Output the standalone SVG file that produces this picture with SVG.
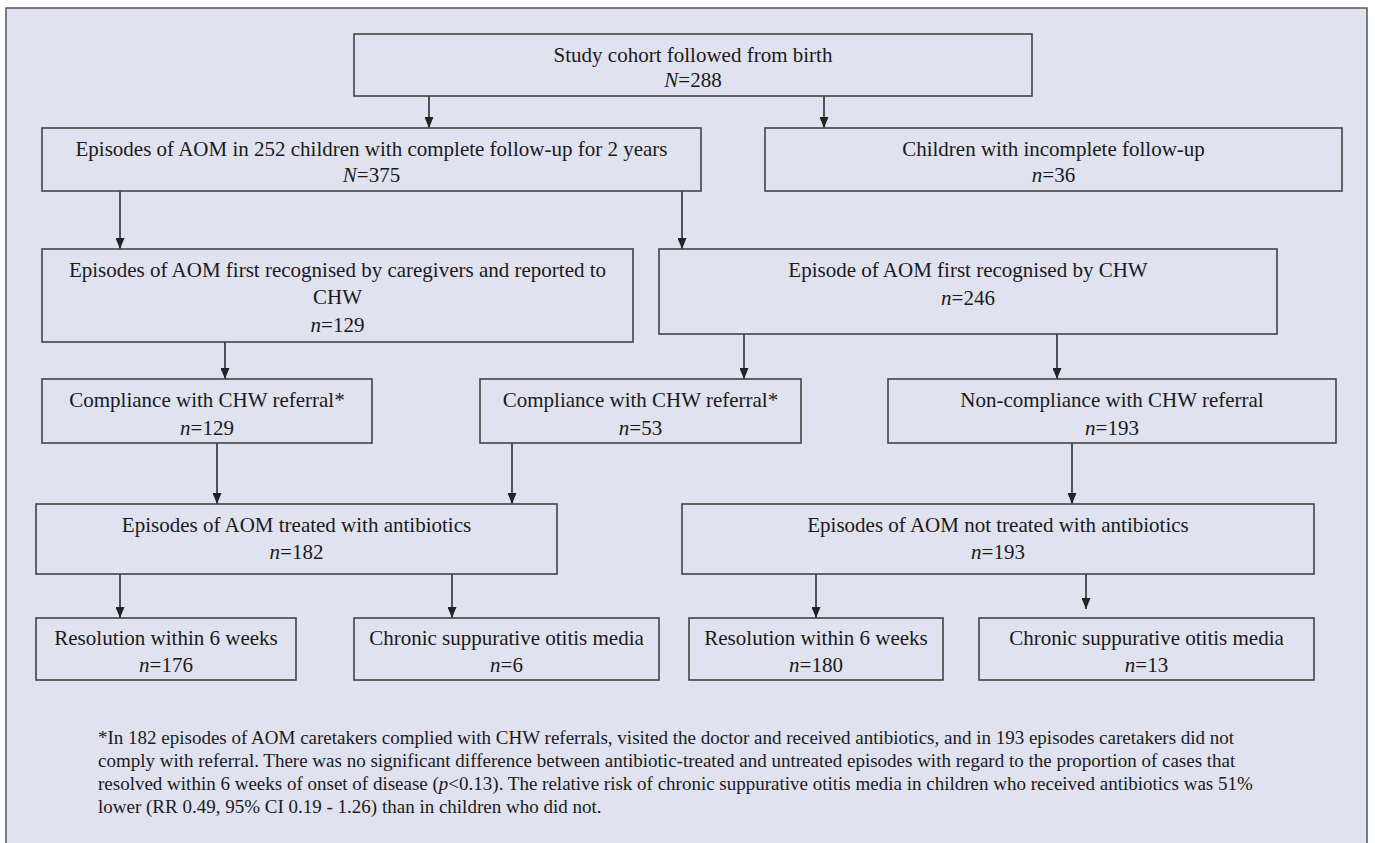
<svg xmlns="http://www.w3.org/2000/svg" width="1375" height="843" viewBox="0 0 1375 843">
<defs>
<style>
.box{fill:none;stroke:#444;stroke-width:1.6}
.t{font-family:"Liberation Serif","Times New Roman",serif;font-size:21px;fill:#1a1a1a;text-anchor:middle}
.fn{font-family:"Liberation Serif","Times New Roman",serif;font-size:19px;fill:#1a1a1a}
.i{font-style:italic}
.c{stroke:#222;stroke-width:1.5;fill:none;marker-end:url(#ah)}
</style>
<marker id="ah" viewBox="0 0 11 9" refX="11" refY="4.5" markerWidth="11" markerHeight="9" markerUnits="userSpaceOnUse" orient="auto">
<path d="M0,0 L11,4.5 L0,9 z" fill="#222"/>
</marker>
</defs>
<rect x="0" y="0" width="1375" height="843" fill="#ffffff"/>
<rect id="frame" x="6" y="8" width="1361" height="845" fill="#e0e2f0" stroke="#555" stroke-width="1.5"/>

<g id="connectors">
<line class="c" x1="429" y1="96" x2="429" y2="128"/>
<line class="c" x1="824" y1="96" x2="824" y2="128"/>
<line class="c" x1="120" y1="191" x2="120" y2="249"/>
<line class="c" x1="682" y1="191" x2="682" y2="249"/>
<line class="c" x1="225" y1="342" x2="225" y2="379"/>
<line class="c" x1="744" y1="334" x2="744" y2="379"/>
<line class="c" x1="1057" y1="334" x2="1057" y2="379"/>
<line class="c" x1="217" y1="443" x2="217" y2="504"/>
<line class="c" x1="512" y1="443" x2="512" y2="504"/>
<line class="c" x1="1072" y1="443" x2="1072" y2="504"/>
<line class="c" x1="120" y1="574" x2="120" y2="618"/>
<line class="c" x1="452" y1="574" x2="452" y2="618"/>
<line class="c" x1="816" y1="574" x2="816" y2="618"/>
<line class="c" x1="1086" y1="574" x2="1086" y2="609"/>
</g>

<g id="n-study">
<rect class="box" x="354" y="34" width="678" height="62"/>
<text class="t" x="693" y="62">Study cohort followed from birth</text>
<text class="t" x="693" y="87"><tspan class="i">N</tspan>=288</text>
</g>
<g id="n-complete">
<rect class="box" x="42" y="128" width="659" height="63"/>
<text class="t" x="371.5" y="156">Episodes of AOM in 252 children with complete follow-up for 2 years</text>
<text class="t" x="371.5" y="182"><tspan class="i">N</tspan>=375</text>
</g>
<g id="n-incomplete">
<rect class="box" x="765" y="128" width="577" height="63"/>
<text class="t" x="1053.5" y="156">Children with incomplete follow-up</text>
<text class="t" x="1053.5" y="182"><tspan class="i">n</tspan>=36</text>
</g>
<g id="n-caregivers">
<rect class="box" x="42" y="249" width="591" height="93"/>
<text class="t" x="337.5" y="277">Episodes of AOM first recognised by caregivers and reported to</text>
<text class="t" x="337.5" y="304">CHW</text>
<text class="t" x="337.5" y="332"><tspan class="i">n</tspan>=129</text>
</g>
<g id="n-chw">
<rect class="box" x="659" y="249" width="618" height="85"/>
<text class="t" x="968" y="277">Episode of AOM first recognised by CHW</text>
<text class="t" x="968" y="305"><tspan class="i">n</tspan>=246</text>
</g>
<g id="n-comp1">
<rect class="box" x="42" y="379" width="330" height="64"/>
<text class="t" x="207" y="407">Compliance with CHW referral*</text>
<text class="t" x="207" y="435"><tspan class="i">n</tspan>=129</text>
</g>
<g id="n-comp2">
<rect class="box" x="480" y="379" width="321" height="64"/>
<text class="t" x="640.5" y="407">Compliance with CHW referral*</text>
<text class="t" x="640.5" y="435"><tspan class="i">n</tspan>=53</text>
</g>
<g id="n-noncomp">
<rect class="box" x="888" y="379" width="448" height="64"/>
<text class="t" x="1112" y="407">Non-compliance with CHW referral</text>
<text class="t" x="1112" y="435"><tspan class="i">n</tspan>=193</text>
</g>
<g id="n-treated">
<rect class="box" x="36" y="504" width="521" height="70"/>
<text class="t" x="296.5" y="532">Episodes of AOM treated with antibiotics</text>
<text class="t" x="296.5" y="559"><tspan class="i">n</tspan>=182</text>
</g>
<g id="n-untreated">
<rect class="box" x="682" y="504" width="632" height="70"/>
<text class="t" x="998" y="532">Episodes of AOM not treated with antibiotics</text>
<text class="t" x="998" y="559"><tspan class="i">n</tspan>=193</text>
</g>
<g id="n-res1">
<rect class="box" x="36" y="618" width="260" height="62"/>
<text class="t" x="166" y="645">Resolution within 6 weeks</text>
<text class="t" x="166" y="672"><tspan class="i">n</tspan>=176</text>
</g>
<g id="n-csom1">
<rect class="box" x="354" y="618" width="305" height="62"/>
<text class="t" x="506.5" y="645">Chronic suppurative otitis media</text>
<text class="t" x="506.5" y="672"><tspan class="i">n</tspan>=6</text>
</g>
<g id="n-res2">
<rect class="box" x="689" y="618" width="254" height="62"/>
<text class="t" x="816" y="645">Resolution within 6 weeks</text>
<text class="t" x="816" y="672"><tspan class="i">n</tspan>=180</text>
</g>
<g id="n-csom2">
<rect class="box" x="979" y="618" width="335" height="62"/>
<text class="t" x="1146.5" y="645">Chronic suppurative otitis media</text>
<text class="t" x="1146.5" y="672"><tspan class="i">n</tspan>=13</text>
</g>

<g id="footnote">
<text class="fn" x="98" y="744">*In 182 episodes of AOM caretakers complied with CHW referrals, visited the doctor and received antibiotics, and in 193 episodes caretakers did not</text>
<text class="fn" x="98" y="767">comply with referral. There was no significant difference between antibiotic-treated and untreated episodes with regard to the proportion of cases that</text>
<text class="fn" x="98" y="790">resolved within 6 weeks of onset of disease (<tspan class="i">p</tspan>&lt;0.13). The relative risk of chronic suppurative otitis media in children who received antibiotics was 51%</text>
<text class="fn" x="98" y="813">lower (RR 0.49, 95% CI 0.19 - 1.26) than in children who did not.</text>
</g>
</svg>
